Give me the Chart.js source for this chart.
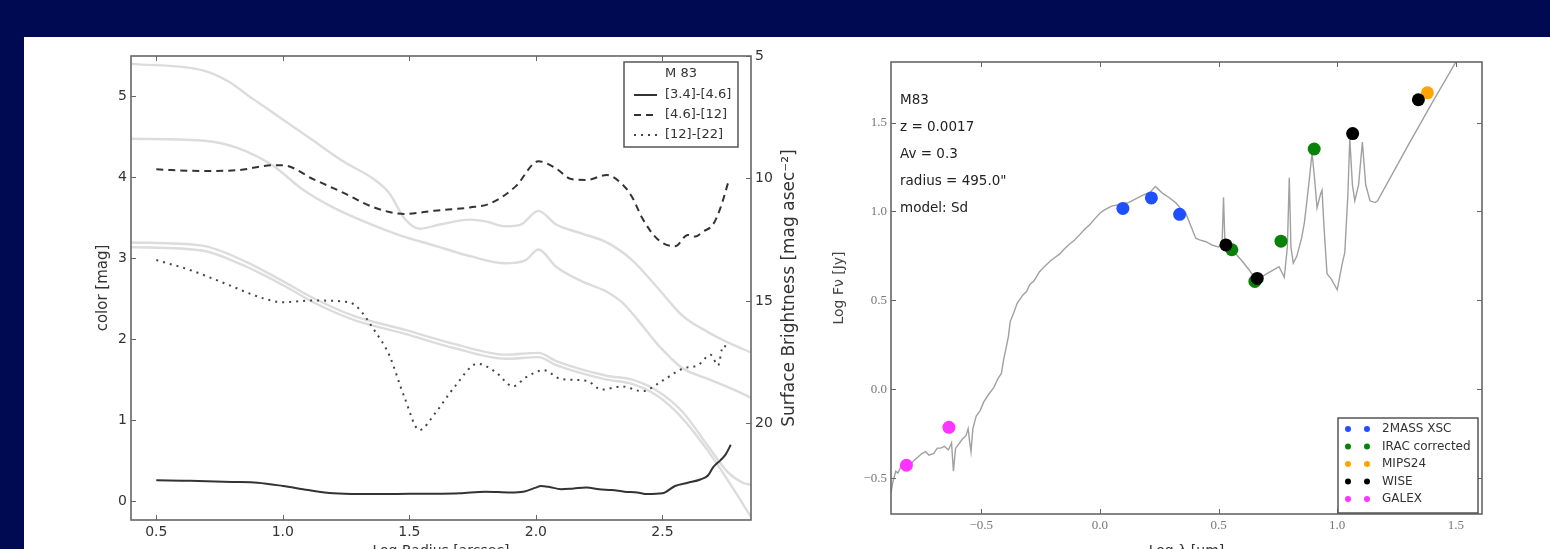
<!DOCTYPE html>
<html>
<head>
<meta charset="utf-8">
<script src="https://cdn.jsdelivr.net/npm/chart.js@4.4.1/dist/chart.umd.min.js"></script>
<style>
  html, body { margin:0; padding:0; }
  body { width:1550px; height:549px; overflow:hidden; position:relative; background:#000a52; }
  #panel { position:absolute; left:24px; top:37px; width:1526px; height:512px; background:#ffffff; }
  #c1 { position:absolute; left:24px; top:37px; }
  #c2 { position:absolute; left:804px; top:37px; }
</style>
</head>
<body>
<div id="panel"></div>
<canvas id="c1" width="780" height="530"></canvas>
<canvas id="c2" width="746" height="530"></canvas>
<script>
// ---------------- LEFT PANEL DATA: colour profiles (left axis, mag) ----------------
const radius34_46 = [0.5, 0.6, 0.7, 0.8, 0.9, 1.0, 1.1, 1.2, 1.3, 1.4, 1.5, 1.6, 1.7, 1.8, 1.9, 1.95, 2.0, 2.02, 2.05, 2.1, 2.15, 2.2, 2.25, 2.3, 2.35, 2.4, 2.44, 2.5, 2.55, 2.6, 2.65, 2.68, 2.7, 2.73, 2.75, 2.77];
const color34_46  = [0.26, 0.255, 0.25, 0.24, 0.23, 0.19, 0.14, 0.10, 0.09, 0.09, 0.095, 0.095, 0.10, 0.12, 0.11, 0.12, 0.17, 0.19, 0.18, 0.15, 0.16, 0.17, 0.15, 0.14, 0.12, 0.11, 0.09, 0.10, 0.19, 0.23, 0.27, 0.32, 0.42, 0.51, 0.58, 0.70];

const radius46_12 = [0.5, 0.68, 0.82, 0.96, 1.0, 1.12, 1.24, 1.36, 1.48, 1.60, 1.74, 1.82, 1.92, 2.01, 2.08, 2.14, 2.2, 2.28, 2.34, 2.38, 2.42, 2.48, 2.55, 2.60, 2.63, 2.66, 2.70, 2.73, 2.76];
const color46_12  = [4.10, 4.08, 4.09, 4.15, 4.15, 3.98, 3.81, 3.63, 3.55, 3.59, 3.63, 3.68, 3.89, 4.20, 4.11, 3.98, 3.97, 4.03, 3.92, 3.76, 3.50, 3.24, 3.15, 3.29, 3.27, 3.33, 3.42, 3.63, 3.94];

const radius12_22 = [0.5, 0.64, 0.78, 0.92, 1.0, 1.12, 1.26, 1.30, 1.36, 1.42, 1.48, 1.54, 1.60, 1.68, 1.77, 1.84, 1.91, 1.96, 2.03, 2.10, 2.20, 2.26, 2.34, 2.42, 2.50, 2.58, 2.64, 2.69, 2.72, 2.74, 2.76];
const color12_22  = [2.98, 2.85, 2.68, 2.51, 2.46, 2.48, 2.46, 2.38, 2.12, 1.81, 1.29, 0.88, 1.08, 1.42, 1.70, 1.60, 1.42, 1.53, 1.62, 1.51, 1.49, 1.38, 1.42, 1.36, 1.49, 1.64, 1.68, 1.81, 1.68, 1.92, 1.90];

// ---------------- LEFT PANEL DATA: surface brightness profiles (right axis, mag/asec^2) ----------------
const radiusW4 = [0.4, 0.68, 0.78, 0.88, 1.0, 1.12, 1.24, 1.36, 1.42, 1.48, 1.54, 1.62, 1.74, 1.80, 1.88, 1.94, 2.01, 2.08, 2.18, 2.28, 2.38, 2.48, 2.58, 2.68, 2.76, 2.85];
const sbW4     = [5.32, 5.58, 6.01, 6.74, 7.59, 8.45, 9.31, 10.03, 10.59, 11.62, 12.05, 11.88, 11.68, 11.75, 11.95, 11.88, 11.32, 11.88, 12.24, 12.61, 13.33, 14.45, 15.61, 16.27, 16.70, 17.10];

const radiusW3 = [0.4, 0.68, 0.82, 0.96, 1.08, 1.20, 1.32, 1.46, 1.60, 1.74, 1.88, 1.96, 2.01, 2.08, 2.18, 2.28, 2.34, 2.40, 2.48, 2.58, 2.68, 2.78, 2.85];
const sbW3     = [8.38, 8.45, 8.75, 9.47, 10.46, 11.19, 11.75, 12.31, 12.74, 13.17, 13.46, 13.33, 12.90, 13.60, 14.19, 14.62, 15.05, 15.74, 16.76, 17.75, 18.18, 18.61, 18.95];

const radiusW2 = [0.4, 0.68, 0.84, 1.0, 1.12, 1.28, 1.48, 1.68, 1.88, 2.01, 2.08, 2.28, 2.38, 2.48, 2.58, 2.68, 2.76, 2.82, 2.85];
const sbW2     = [12.61, 12.74, 13.33, 14.19, 14.88, 15.61, 16.17, 16.76, 17.19, 17.12, 17.45, 18.05, 18.21, 18.67, 19.53, 20.92, 22.01, 22.43, 22.50];

const radiusW1 = [0.4, 0.68, 0.84, 1.0, 1.12, 1.28, 1.48, 1.68, 1.88, 2.01, 2.08, 2.28, 2.38, 2.48, 2.58, 2.68, 2.76, 2.82, 2.86];
const sbW1     = [12.80, 12.94, 13.53, 14.35, 15.05, 15.77, 16.33, 16.93, 17.36, 17.29, 17.62, 18.21, 18.38, 18.87, 19.80, 21.12, 22.34, 23.32, 23.98];

const leftXTicks  = [0.5, 1.0, 1.5, 2.0, 2.5];
const leftYTicks  = [0, 1, 2, 3, 4, 5];
const rightYTicks = [5, 10, 15, 20];

// ---------------- RIGHT PANEL DATA: SED ----------------
const modelLogLam = [-0.88, -0.872, -0.86, -0.851, -0.84, -0.83, -0.81, -0.80, -0.785, -0.766, -0.75, -0.734, -0.72, -0.70, -0.685, -0.67, -0.655, -0.638, -0.625, -0.617, -0.608, -0.596, -0.58, -0.564, -0.555, -0.548, -0.543, -0.535, -0.521, -0.505, -0.489, -0.47, -0.447, -0.43, -0.415, -0.405, -0.394, -0.385, -0.378, -0.372, -0.36, -0.35, -0.34, -0.325, -0.309, -0.295, -0.277, -0.255, -0.234, -0.21, -0.191, -0.17, -0.149, -0.125, -0.106, -0.085, -0.064, -0.04, -0.021, 0.0, 0.021, 0.05, 0.085, 0.12, 0.149, 0.18, 0.213, 0.234, 0.25, 0.266, 0.29, 0.319, 0.345, 0.362, 0.38, 0.404, 0.42, 0.447, 0.475, 0.50, 0.515, 0.521, 0.527, 0.545, 0.574, 0.60, 0.63, 0.66, 0.68, 0.702, 0.73, 0.755, 0.777, 0.79, 0.798, 0.805, 0.815, 0.83, 0.85, 0.862, 0.88, 0.894, 0.905, 0.915, 0.93, 0.936, 0.945, 0.957, 0.975, 1.0, 1.02, 1.032, 1.045, 1.053, 1.064, 1.074, 1.09, 1.106, 1.12, 1.138, 1.16, 1.17, 1.298, 1.404, 1.50, 1.56];
const modelLogF   = [-0.58, -0.52, -0.46, -0.47, -0.44, -0.44, -0.42, -0.43, -0.40, -0.38, -0.36, -0.35, -0.37, -0.36, -0.33, -0.33, -0.32, -0.34, -0.30, -0.46, -0.33, -0.31, -0.28, -0.26, -0.22, -0.30, -0.35, -0.22, -0.15, -0.12, -0.07, -0.03, 0.01, 0.06, 0.09, 0.17, 0.24, 0.30, 0.38, 0.40, 0.44, 0.48, 0.50, 0.53, 0.55, 0.59, 0.61, 0.66, 0.69, 0.72, 0.74, 0.76, 0.79, 0.82, 0.84, 0.87, 0.90, 0.93, 0.96, 0.99, 1.01, 1.03, 1.04, 1.05, 1.07, 1.09, 1.11, 1.14, 1.12, 1.10, 1.08, 1.05, 1.01, 0.99, 0.93, 0.85, 0.84, 0.83, 0.81, 0.80, 0.82, 1.08, 0.82, 0.80, 0.76, 0.72, 0.67, 0.61, 0.63, 0.65, 0.67, 0.69, 0.63, 0.80, 1.19, 0.80, 0.71, 0.75, 0.85, 0.94, 1.15, 1.33, 1.18, 1.02, 1.10, 1.12, 0.90, 0.65, 0.62, 0.56, 0.70, 0.77, 1.10, 1.41, 1.15, 1.06, 1.15, 1.39, 1.15, 1.06, 1.05, 1.06, 1.37, 1.62, 1.84, 1.96];

const twoMassLam = [0.097, 0.217, 0.336];
const twoMassF   = [1.017, 1.076, 0.984];
const iracLam    = [0.556, 0.653, 0.763, 0.903];
const iracF      = [0.785, 0.607, 0.833, 1.351];
const mipsLam    = [1.380];
const mipsF      = [1.667];
const wiseLam    = [0.531, 0.663, 1.065, 1.342];
const wiseF      = [0.812, 0.624, 1.438, 1.628];
const galexLam   = [-0.815, -0.636];
const galexF     = [-0.426, -0.213];

const sedXTicks = [-0.5, 0.0, 0.5, 1.0, 1.5];
const sedYTicks = [-0.5, 0.0, 0.5, 1.0, 1.5];

const sedNotes = ['M83', 'z = 0.0017', 'Av = 0.3', 'radius = 495.0"', 'model: Sd'];

// ---------------- helpers ----------------
const pts = (xs, ys) => xs.map((x, i) => ({x: x, y: ys[i]}));
const SANS = '"DejaVu Sans", "Liberation Sans", sans-serif';
const SERIF = '"Liberation Serif", "DejaVu Serif", serif';
const minus = v => (v < 0 ? '\u2212' : '') + Math.abs(v).toFixed(1);

Chart.defaults.animation = false;
Chart.defaults.responsive = false;
Chart.defaults.devicePixelRatio = 1;

// frame + inward tick marks (matplotlib style)
const framePlugin = {
  id: 'frame',
  afterDatasetsDraw(chart, args, o) {
    const ctx = chart.ctx, a = chart.chartArea, L = o.tickLen || 5;
    ctx.save();
    ctx.strokeStyle = o.color; ctx.lineWidth = 1;
    ctx.beginPath();
    const xs = chart.scales[o.x];
    xs.ticks.forEach(t => { const p = Math.round(xs.getPixelForValue(t.value)) + 0.5;
      ctx.moveTo(p, a.bottom); ctx.lineTo(p, a.bottom - L);
      ctx.moveTo(p, a.top); ctx.lineTo(p, a.top + L); });
    const yl = chart.scales[o.yLeft];
    yl.ticks.forEach(t => { const p = Math.round(yl.getPixelForValue(t.value)) + 0.5;
      ctx.moveTo(a.left, p); ctx.lineTo(a.left + L, p); });
    const yr = chart.scales[o.yRight];
    yr.ticks.forEach(t => { const p = Math.round(yr.getPixelForValue(t.value)) + 0.5;
      ctx.moveTo(a.right, p); ctx.lineTo(a.right - L, p); });
    ctx.stroke();
    ctx.lineWidth = o.width;
    ctx.strokeRect(a.left, a.top, a.right - a.left, a.bottom - a.top);
    ctx.restore();
  }
};

// matplotlib-like boxed legend inside the axes
const boxLegend = {
  id: 'boxLegend',
  afterDraw(chart, args, o) {
    const ctx = chart.ctx, a = chart.chartArea;
    const x0 = a.right - o.right - o.width;
    const y0 = o.top != null ? a.top + o.top : a.bottom - o.bottom - o.height;
    ctx.save();
    ctx.fillStyle = '#ffffff';
    ctx.fillRect(x0, y0, o.width, o.height);
    ctx.strokeStyle = '#555'; ctx.lineWidth = 1.5;
    ctx.strokeRect(x0, y0, o.width, o.height);
    ctx.font = o.font;
    ctx.fillStyle = '#333';
    ctx.textBaseline = 'middle';
    let y = y0 + o.firstRow;
    if (o.title) {
      ctx.textAlign = 'center';
      ctx.fillText(o.title, x0 + o.width / 2, y0 + o.titleRow);
    }
    ctx.textAlign = 'left';
    chart.data.datasets.filter(d => d.inLegend).forEach(d => {
      if (d.showLine === false) {
        ctx.fillStyle = d.backgroundColor;
        [o.dot1, o.dot2].forEach(dx => { ctx.beginPath(); ctx.arc(x0 + dx, y, 3, 0, Math.PI * 2); ctx.fill(); });
      } else {
        ctx.strokeStyle = d.borderColor; ctx.lineWidth = d.borderWidth;
        ctx.setLineDash(d.borderDash || []);
        ctx.beginPath(); ctx.moveTo(x0 + o.line1, y); ctx.lineTo(x0 + o.line2, y); ctx.stroke();
        ctx.setLineDash([]);
      }
      ctx.fillStyle = '#333';
      ctx.fillText(d.label, x0 + o.textX, y);
      y += o.rowH;
    });
    ctx.restore();
  }
};

// extra text (right-side axis title on left panel, notes on SED)
const textPlugin = {
  id: 'extraText',
  afterDraw(chart, args, o) {
    const ctx = chart.ctx, a = chart.chartArea;
    ctx.save();
    (o.items || []).forEach(it => {
      ctx.font = it.font; ctx.fillStyle = it.color;
      ctx.textBaseline = 'middle'; ctx.textAlign = it.align || 'left';
      const x = it.fromRight ? a.right + it.dx : a.left + it.dx;
      const y = it.centerY ? (a.top + a.bottom) / 2 : a.top + it.dy;
      ctx.translate(x, y); ctx.rotate(it.rot || 0);
      ctx.fillText(it.text, 0, 0);
      ctx.setTransform(1, 0, 0, 1, 0, 0);
    });
    ctx.restore();
  }
};

const noPad = s => { s.paddingTop = 0; s.paddingBottom = 0; s.paddingLeft = 0; s.paddingRight = 0; };

// ---------------- LEFT CHART ----------------
const greyLine = (label, xs, ys) => ({
  label: label, data: pts(xs, ys), yAxisID: 'y2', borderColor: '#dcdcdc', borderWidth: 2.4,
  pointRadius: 0, cubicInterpolationMode: 'monotone', order: 10, inLegend: false
});

new Chart(document.getElementById('c1'), {
  type: 'line',
  data: {
    datasets: [
      { label: '[3.4]-[4.6]', data: pts(radius34_46, color34_46), yAxisID: 'y', borderColor: '#333', borderWidth: 2,
        pointRadius: 0, cubicInterpolationMode: 'monotone', order: 1, inLegend: true },
      { label: '[4.6]-[12]', data: pts(radius46_12, color46_12), yAxisID: 'y', borderColor: '#333', borderWidth: 2,
        borderDash: [7, 5], pointRadius: 0, cubicInterpolationMode: 'monotone', order: 2, inLegend: true },
      { label: '[12]-[22]', data: pts(radius12_22, color12_22), yAxisID: 'y', borderColor: '#444', borderWidth: 2,
        borderDash: [2, 5], pointRadius: 0, cubicInterpolationMode: 'monotone', order: 3, inLegend: true },
      greyLine('W4', radiusW4, sbW4),
      greyLine('W3', radiusW3, sbW3),
      greyLine('W2', radiusW2, sbW2),
      greyLine('W1', radiusW1, sbW1)
    ]
  },
  options: {
    layout: { padding: { left: 66, right: 3, top: 19, bottom: 3 } },
    scales: {
      x: { type: 'linear', min: 0.4, max: 2.85,
        afterFit: s => { s.height = 44; noPad(s); },
        afterBuildTicks: s => { s.ticks = leftXTicks.map(v => ({value: v})); },
        ticks: { callback: v => v.toFixed(1), padding: 4, color: '#333', font: { family: SANS, size: 14 }, maxRotation: 0 },
        grid: { display: false, drawTicks: false }, border: { display: false },
        title: { display: true, text: 'Log Radius [arcsec]', color: '#333', font: { family: SANS, size: 14 }, padding: { top: 4, bottom: 4 } } },
      y: { type: 'linear', position: 'left', min: -0.23, max: 5.5,
        afterFit: s => { s.width = 41; noPad(s); },
        afterBuildTicks: s => { s.ticks = leftYTicks.map(v => ({value: v})); },
        ticks: { callback: v => String(v), padding: 4, color: '#333', font: { family: SANS, size: 14 } },
        grid: { display: false, drawTicks: false }, border: { display: false },
        title: { display: true, text: 'color [mag]', color: '#333', font: { family: SANS, size: 15 }, padding: { top: 4, bottom: 4 } } },
      y2: { type: 'linear', position: 'right', reverse: true, min: 5, max: 23.94,
        afterFit: s => { s.width = 50; noPad(s); },
        afterBuildTicks: s => { s.ticks = rightYTicks.map(v => ({value: v})); },
        ticks: { callback: v => String(v), padding: 4, color: '#333', font: { family: SANS, size: 14 } },
        grid: { display: false, drawTicks: false }, border: { display: false } }
    },
    plugins: {
      legend: { display: false }, tooltip: { enabled: false },
      frame: { x: 'x', yLeft: 'y', yRight: 'y2', color: '#666', width: 1.6, tickLen: 5 },
      boxLegend: { title: 'M 83', right: 13, top: 6, width: 114, height: 85, font: '13px ' + SANS,
        titleRow: 12, firstRow: 33, rowH: 20, line1: 10, line2: 33, textX: 41 },
      extraText: { items: [
        { text: 'Surface Brightness [mag asec\u207B\u00B2]', font: '17px ' + SANS, color: '#333',
          fromRight: true, dx: 39, centerY: true, rot: -Math.PI / 2, align: 'center' }
      ] }
    }
  },
  plugins: [framePlugin, boxLegend, textPlugin]
});

// ---------------- RIGHT CHART (SED) ----------------
const dots = (label, xs, ys, color, order) => ({
  label: label, data: pts(xs, ys), showLine: false, pointRadius: 6.5, pointHoverRadius: 6.5,
  backgroundColor: color, borderColor: color, pointBorderWidth: 0, order: order, inLegend: true
});

new Chart(document.getElementById('c2'), {
  type: 'line',
  data: {
    datasets: [
      { label: 'model', data: pts(modelLogLam, modelLogF), borderColor: '#a0a0a0', borderWidth: 1.4,
        pointRadius: 0, tension: 0, order: 20, inLegend: false },
      dots('2MASS XSC', twoMassLam, twoMassF, '#1f4fff', 15),
      dots('IRAC corrected', iracLam, iracF, '#0a820a', 14),
      dots('MIPS24', mipsLam, mipsF, '#ffa500', 13),
      dots('WISE', wiseLam, wiseF, '#000000', 12),
      dots('GALEX', galexLam, galexF, '#ff33ff', 11)
    ]
  },
  options: {
    layout: { padding: { left: 23, right: 68, top: 25, bottom: 3 } },
    scales: {
      x: { type: 'linear', min: -0.88, max: 1.61,
        afterFit: s => { s.height = 50; noPad(s); },
        afterBuildTicks: s => { s.ticks = sedXTicks.map(v => ({value: v})); },
        ticks: { callback: v => minus(v), padding: 4, color: '#777', font: { family: SERIF, size: 13 }, maxRotation: 0 },
        grid: { display: false, drawTicks: false }, border: { display: false },
        title: { display: true, text: 'Log \u03BB [\u03BCm]', color: '#333', font: { family: SANS, size: 14 }, padding: { top: 4, bottom: 4 } } },
      y: { type: 'linear', min: -0.7, max: 1.84,
        afterFit: s => { s.width = 64; noPad(s); },
        afterBuildTicks: s => { s.ticks = sedYTicks.map(v => ({value: v})); },
        ticks: { callback: v => minus(v), padding: 4, color: '#777', font: { family: SERIF, size: 13 } },
        grid: { display: false, drawTicks: false }, border: { display: false },
        title: { display: true, text: 'Log F\u03BD [Jy]', color: '#444', font: { family: SANS, size: 14 }, padding: { top: 4, bottom: 4 } } }
    },
    plugins: {
      legend: { display: false }, tooltip: { enabled: false },
      frame: { x: 'x', yLeft: 'y', yRight: 'y', color: '#666', width: 1.6, tickLen: 5 },
      boxLegend: { right: 4, bottom: 1, width: 140, height: 95, font: '12px ' + SANS,
        firstRow: 11, rowH: 17.5, dot1: 10, dot2: 29, textX: 44 },
      extraText: { items: sedNotes.map((t, i) => ({ text: t, font: '13.5px ' + SANS, color: '#222', dx: 9, dy: 38 + 27 * i })) }
    }
  },
  plugins: [framePlugin, boxLegend, textPlugin]
});
</script>
</body>
</html>
